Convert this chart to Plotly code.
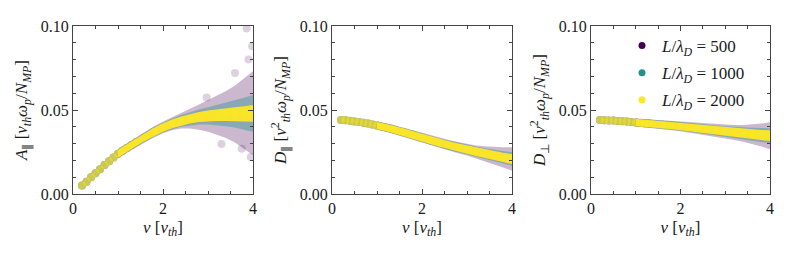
import plotly.graph_objects as go

# ---------------- data ----------------
v = [0.2, 0.3, 0.4, 0.5, 0.6, 0.7, 0.8, 0.9, 1.0, 1.1, 1.2, 1.3, 1.4, 1.6, 1.8, 2.0,
     2.2, 2.4, 2.6, 2.8, 3.0, 3.2, 3.4, 3.6, 3.8, 4.0]

# band grid (where the cloud is continuous)
vb = [1.0, 1.2, 1.4, 1.6, 1.8, 2.0, 2.2, 2.4, 2.6, 2.8, 3.0, 3.2, 3.4, 3.6, 3.8, 4.0]

series_labels = ["<i>L</i>/<i>λ<sub>D</sub></i> = 500",
                 "<i>L</i>/<i>λ<sub>D</sub></i> = 1000",
                 "<i>L</i>/<i>λ<sub>D</sub></i> = 2000"]

# panel 1 : A_par
A_center = [0.0050, 0.0073, 0.0100, 0.0124, 0.0148, 0.0172, 0.0195, 0.0218, 0.0240, 0.0257,
            0.0274, 0.0291, 0.0308, 0.0340, 0.0370, 0.0396,
            0.0418, 0.0435, 0.0448, 0.0458, 0.0465, 0.0470, 0.0473, 0.0476, 0.0478, 0.0480]
A_half_500 = [0.0028, 0.0029, 0.0030, 0.0032, 0.0033, 0.0035, 0.0038, 0.0045, 0.0058, 0.0075,
              0.0095, 0.0118, 0.0140, 0.0170, 0.0210, 0.0250]
A_half_1000 = [0.0025, 0.0026, 0.0027, 0.0028, 0.0029, 0.0030, 0.0032, 0.0035, 0.0040, 0.0045,
               0.0052, 0.0060, 0.0070, 0.0080, 0.0095, 0.0110]
A_half_2000 = [0.0022, 0.0022, 0.0023, 0.0023, 0.0024, 0.0025, 0.0026, 0.0027, 0.0028, 0.0030,
               0.0032, 0.0035, 0.0038, 0.0041, 0.0045, 0.0050]
A_out_v = [3.30, 2.97, 3.86, 3.98, 3.95, 3.75, 3.60, 3.90]
A_out_y = [0.0298, 0.0575, 0.0985, 0.0880, 0.0220, 0.0270, 0.0720, 0.0800]

# panel 2 : D_par
Dp_center = [0.0440, 0.0439, 0.0436, 0.0432, 0.0428, 0.0424, 0.0419, 0.0414, 0.0408, 0.0402,
             0.0396, 0.0390, 0.0383, 0.0368, 0.0352, 0.0335,
             0.0319, 0.0304, 0.0290, 0.0276, 0.0264, 0.0251, 0.0239, 0.0228, 0.0218, 0.0208]
Dp_half_500 = [0.0024, 0.0025, 0.0025, 0.0026, 0.0027, 0.0028, 0.0029, 0.0030, 0.0031, 0.0033,
               0.0035, 0.0038, 0.0045, 0.0052, 0.0060, 0.0070]
Dp_half_1000 = [0.0023, 0.0023, 0.0024, 0.0024, 0.0025, 0.0026, 0.0026, 0.0027, 0.0028, 0.0029,
                0.0030, 0.0031, 0.0033, 0.0035, 0.0037, 0.0040]
Dp_half_2000 = [0.0021, 0.0021, 0.0022, 0.0022, 0.0022, 0.0023, 0.0023, 0.0023, 0.0024, 0.0024,
                0.0025, 0.0025, 0.0026, 0.0027, 0.0028, 0.0030]

# panel 3 : D_perp
Dq_center = [0.0440, 0.0439, 0.0438, 0.0437, 0.0435, 0.0433, 0.0431, 0.0428, 0.0426, 0.0423,
             0.0421, 0.0419, 0.0417, 0.0412, 0.0408, 0.0403,
             0.0398, 0.0392, 0.0385, 0.0378, 0.0371, 0.0366, 0.0361, 0.0356, 0.0351, 0.0347]
Dq_half_500 = [0.0024, 0.0025, 0.0026, 0.0027, 0.0028, 0.0030, 0.0031, 0.0033, 0.0035, 0.0037,
               0.0040, 0.0044, 0.0050, 0.0058, 0.0068, 0.0080]
Dq_half_1000 = [0.0023, 0.0023, 0.0024, 0.0024, 0.0025, 0.0026, 0.0027, 0.0028, 0.0029, 0.0030,
                0.0032, 0.0034, 0.0036, 0.0039, 0.0042, 0.0045]
Dq_half_2000 = [0.0021, 0.0021, 0.0022, 0.0022, 0.0022, 0.0023, 0.0023, 0.0024, 0.0025, 0.0025,
                0.0026, 0.0027, 0.0028, 0.0028, 0.0030, 0.0032]

x_ticks = [0, 2, 4]
y_ticks = [0.00, 0.05, 0.10]
y_ticklabels = ["0.00", "0.05", "0.10"]

# ---------------- style ----------------
colors = ["#440154", "#21918c", "#fde725"]
band_rgba = ["rgba(68,1,84,0.28)", "rgba(33,145,140,0.40)", "rgba(253,231,37,0.95)"]
marker_op = [0.40, 0.40, 0.62]
FONT = "Liberation Serif"
TXT = "#1a1a1a"
AX = "#444444"

fig = go.Figure()

panels = [
    (A_center, [A_half_500, A_half_1000, A_half_2000], "x", "y"),
    (Dp_center, [Dp_half_500, Dp_half_1000, Dp_half_2000], "x2", "y2"),
    (Dq_center, [Dq_half_500, Dq_half_1000, Dq_half_2000], "x3", "y3"),
]

for p, (center, halves, xa, ya) in enumerate(panels):
    cb = [center[v.index(b)] for b in vb]
    for s in range(3):
        lo = [c - h for c, h in zip(cb, halves[s])]
        hi = [c + h for c, h in zip(cb, halves[s])]
        fig.add_trace(go.Scatter(
            x=vb + vb[::-1], y=hi + lo[::-1], fill="toself",
            fillcolor=band_rgba[s], line=dict(width=0), mode="lines",
            hoverinfo="skip", showlegend=False, xaxis=xa, yaxis=ya))
        if p == 0 and s == 0:
            fig.add_trace(go.Scatter(
                x=A_out_v, y=A_out_y, mode="markers",
                marker=dict(size=8, color=colors[0], opacity=0.18),
                showlegend=False, xaxis=xa, yaxis=ya))
        fig.add_trace(go.Scatter(
            x=v, y=center, mode="markers",
            marker=dict(size=8, color=colors[s], opacity=marker_op[s]),
            showlegend=False, xaxis=xa, yaxis=ya))

# legend entries (panel 3)
for s in range(3):
    fig.add_trace(go.Scatter(
        x=[None], y=[None], mode="markers", name=series_labels[s],
        legendgroup="g%d" % s,
        marker=dict(size=7, color=colors[s]), xaxis="x3", yaxis="y3"))

# the page body adds an 8 px offset; size the figure to fill the rest of the window
OFF = 8
W, H = 793 - OFF, 254 - OFF
doms = [(73, 253), (332, 512), (591, 770)]
ydom = [1 - (194 - OFF) / H, 1 - (26 - OFF) / H]

ytitles = [
    "<i>A</i><sub>∥</sub> [<i>v<sub>th</sub>ω<sub>p</sub></i>/<i>N<sub>MP</sub></i>]",
    "<i>D</i><sub>∥</sub> [<i>v</i><sup>2</sup><sub><i>th</i></sub><i>ω<sub>p</sub></i>/<i>N<sub>MP</sub></i>]",
    "<i>D</i><sub>⊥</sub> [<i>v</i><sup>2</sup><sub><i>th</i></sub><i>ω<sub>p</sub></i>/<i>N<sub>MP</sub></i>]",
]

axcommon = dict(showline=True, linecolor=AX, linewidth=1, mirror="allticks",
                ticks="inside", ticklen=5, tickwidth=1, tickcolor=AX,
                showgrid=False, zeroline=False, automargin=False,
                tickfont=dict(family=FONT, size=16, color=TXT))

layout = dict(width=W, height=H, margin=dict(l=0, r=0, t=0, b=0),
              plot_bgcolor="white", paper_bgcolor="white",
              font=dict(family=FONT, color=TXT),
              legend=dict(x=(622 - OFF) / W, y=1 - (28 - OFF) / H, xanchor="left", yanchor="top",
                          bgcolor="rgba(0,0,0,0)", font=dict(family=FONT, size=17, color=TXT),
                          itemsizing="trace", tracegroupgap=2))

for i, (a, b) in enumerate(doms):
    sx = "" if i == 0 else str(i + 1)
    layout["xaxis" + sx] = dict(
        axcommon, domain=[(a - OFF) / W, (b - OFF) / W], range=[0, 4], tickvals=x_ticks,
        ticktext=[str(t) for t in x_ticks],
        minor=dict(dtick=0.5, ticks="inside", ticklen=3, tickcolor=AX, showgrid=False),
        anchor="y" + sx,
        title=dict(text="<i>v</i> [<i>v<sub>th</sub></i>]", standoff=4,
                   font=dict(family=FONT, size=17, color=TXT)))
    layout["yaxis" + sx] = dict(
        axcommon, domain=ydom, range=[0, 0.1], tickvals=y_ticks, ticktext=y_ticklabels,
        minor=dict(dtick=0.01, ticks="inside", ticklen=3, tickcolor=AX, showgrid=False),
        anchor="x" + sx,
        title=dict(text=ytitles[i], standoff=8, font=dict(family=FONT, size=17, color=TXT)))

fig.update_layout(**layout)
fig.write_html("out.html")
